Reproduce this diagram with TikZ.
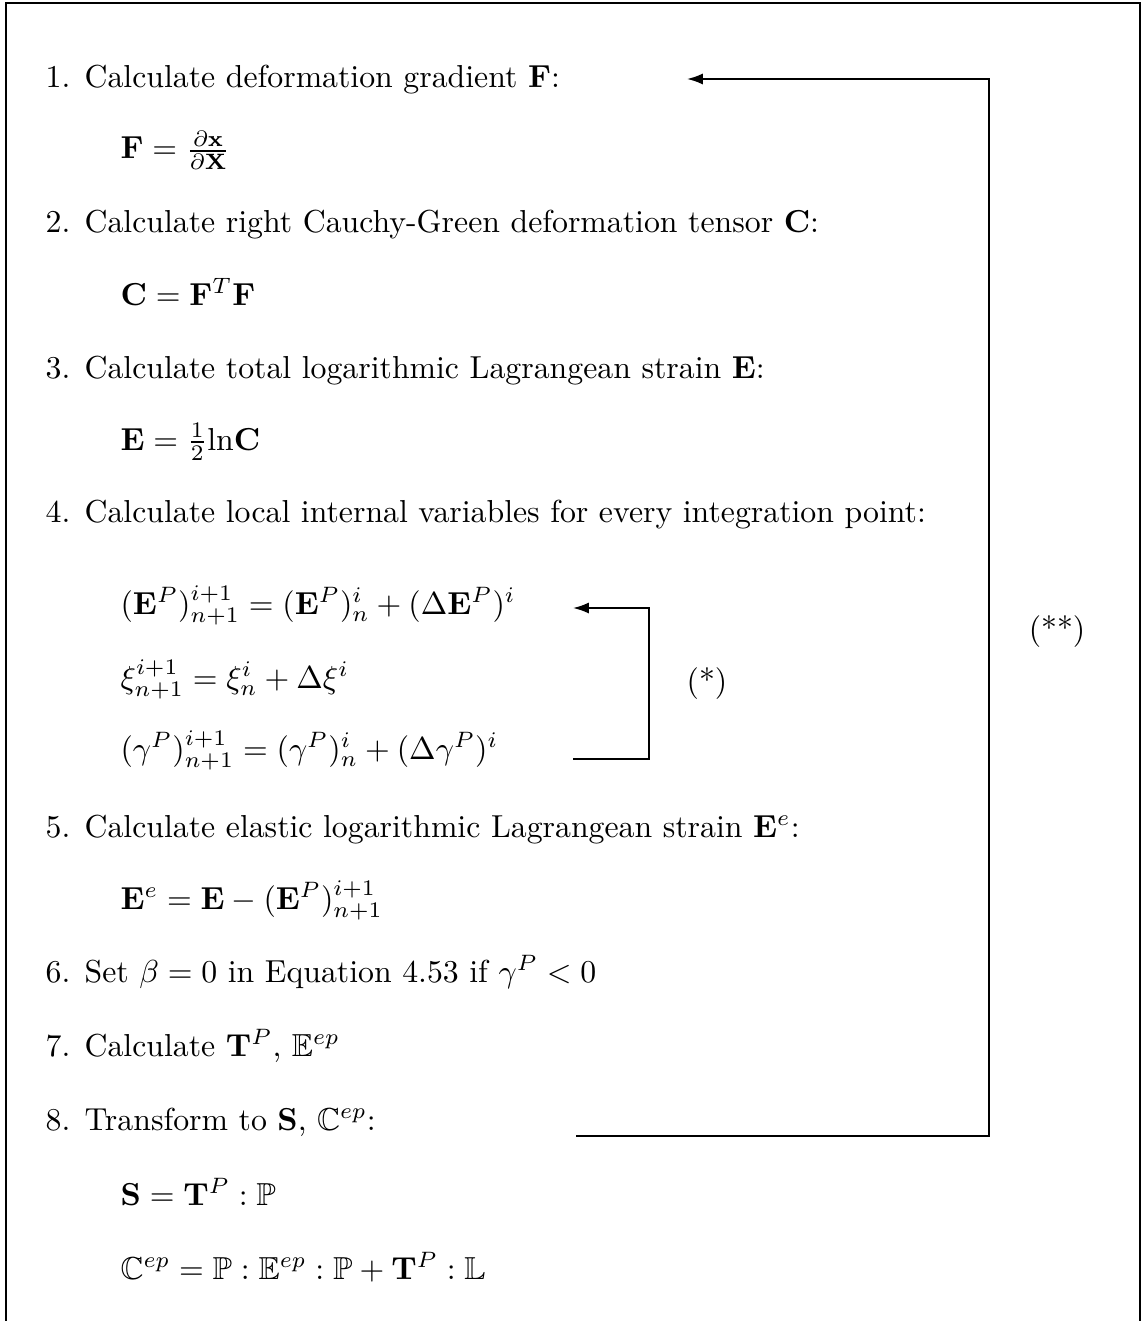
\documentclass[tikz,border=0pt]{standalone}
\usepackage{amsmath,amssymb}
\usetikzlibrary{arrows.meta}
\begin{document}
\begin{tikzpicture}[x=0.3146pt,y=-0.3146pt,
  itemtxt/.style={anchor=base west,inner sep=0pt},
  itemnum/.style={anchor=base east,inner sep=0pt},
  eqn/.style={anchor=base west,inner sep=0pt},
  looptag/.style={inner sep=0pt},
  loopline/.style={line width=0.6pt},
  looparrow/.style={loopline,-{Latex[length=5pt,width=3.5pt]}}
]
\useasboundingbox (0,0) rectangle (1142,1321);
\draw[line width=0.65pt] (6,3) rectangle (1140,1400);

\node[itemnum] (n1) at (71,88) {1.};
\node[itemtxt] (t1) at (84,88) {Calculate deformation gradient $\mathbf{F}$:};
\node[eqn] (e1) at (120,159) {$\mathbf{F} = \frac{\partial \mathbf{x}}{\partial \mathbf{X}}$};

\node[itemnum] (n2) at (71,232) {2.};
\node[itemtxt] (t2) at (84,232) {Calculate right Cauchy-Green deformation tensor $\mathbf{C}$:};
\node[eqn] (e2) at (120,305) {$\mathbf{C} = \mathbf{F}^T\mathbf{F}$};

\node[itemnum] (n3) at (71,378) {3.};
\node[itemtxt] (t3) at (84,378) {Calculate total logarithmic Lagrangean strain $\mathbf{E}$:};
\node[eqn] (e3) at (120,450) {$\mathbf{E} = \frac{1}{2}\mathrm{ln}\mathbf{C}$};

\node[itemnum] (n4) at (71,522) {4.};
\node[itemtxt] (t4) at (84,522) {Calculate local internal variables for every integration point:};
\node[eqn] (e4a) at (120,614) {$(\mathbf{E}^P)^{i+1}_{n+1} = (\mathbf{E}^P)^{i}_{n} + (\Delta\mathbf{E}^P)^i$};
\node[eqn] (e4b) at (120,688) {$\xi^{i+1}_{n+1} = \xi^i_n + \Delta\xi^i$};
\node[eqn] (e4c) at (120,759) {$(\gamma^P)^{i+1}_{n+1} = (\gamma^P)^i_n + (\Delta\gamma^P)^i$};

\node[itemnum] (n5) at (71,837) {5.};
\node[itemtxt] (t5) at (84,837) {Calculate elastic logarithmic Lagrangean strain $\mathbf{E}^e$:};
\node[eqn] (e5) at (120,909) {$\mathbf{E}^e = \mathbf{E} - (\mathbf{E}^P)^{i+1}_{n+1}$};

\node[itemnum] (n6) at (71,982) {6.};
\node[itemtxt] (t6) at (84,982) {Set $\beta = 0$ in Equation 4.53 if $\gamma^P < 0$};

\node[itemnum] (n7) at (71,1056) {7.};
\node[itemtxt] (t7) at (84,1056) {Calculate $\mathbf{T}^P$, $\mathbb{E}^{ep}$};

\node[itemnum] (n8) at (71,1130) {8.};
\node[itemtxt] (t8) at (84,1130) {Transform to $\mathbf{S}$, $\mathbb{C}^{ep}$:};
\node[eqn] (e8a) at (120,1205) {$\mathbf{S} = \mathbf{T}^P : \mathbb{P}$};
\node[eqn] (e8b) at (120,1279) {$\mathbb{C}^{ep} = \mathbb{P} : \mathbb{E}^{ep} : \mathbb{P} + \mathbf{T}^P : \mathbb{L}$};

% outer loop (**)
\coordinate (otip) at (687,79);
\coordinate (otr) at (989,79);
\coordinate (obr) at (989,1136);
\coordinate (ostart) at (576,1136);
\draw[looparrow] (ostart) -- (obr) -- (otr) -- (otip);
\node[looptag] (tagout) at (1057,632) {(**)};

% inner loop (*)
\coordinate (itip) at (573,608);
\coordinate (itr) at (649,608);
\coordinate (ibr) at (649,759);
\coordinate (istart) at (573,759);
\draw[looparrow] (istart) -- (ibr) -- (itr) -- (itip);
\node[looptag] (tagin) at (707,684) {(*)};
\end{tikzpicture}
\end{document}
